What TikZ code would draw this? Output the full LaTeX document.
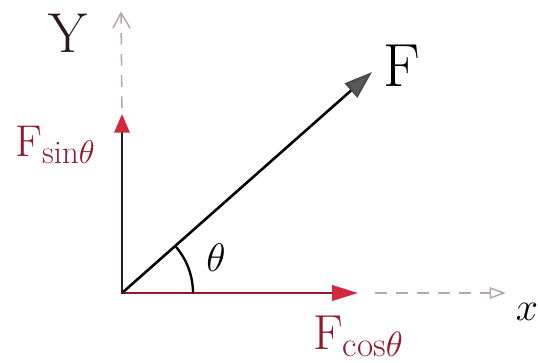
\documentclass[tikz,border=0pt]{standalone}
\usepackage{fix-cm}
\usetikzlibrary{arrows.meta}
\definecolor{inkred}{HTML}{8E1B2E}
\definecolor{inkdark}{HTML}{2A1A1C}
\definecolor{arrred}{HTML}{D4283F}
\definecolor{dashgray}{HTML}{B8A8AC}
\DeclareMathSizes{34}{34}{24}{18}
\DeclareMathSizes{30}{30}{22}{16}
\DeclareMathSizes{28}{28}{20}{14}
\begin{document}
\begin{tikzpicture}[x=0.03cm,y=-0.03cm,
  axisline/.style={line width=2.3pt,line cap=round},
  dashaxis/.style={line width=1.3pt,dash pattern=on 10pt off 8pt,dashgray},
  lbl/.style={inner sep=0pt,anchor=center}]
\useasboundingbox (0,0) rectangle (538,362);
\fill[white] (0,0) rectangle (538,362);
% points
\coordinate (O) at (122,293);
\coordinate (Ytip) at (122,114);
\coordinate (Ydash0) at (122,108);
\coordinate (Ytop) at (121,13);
\coordinate (Xtip) at (358,293);
\coordinate (Xdash0) at (375,293);
\coordinate (Xend) at (506,293);
\coordinate (Ftip) at (372,72);
% dashed axes
\draw[dashaxis] (Ydash0) -- (Ytop);
\draw[line width=1.3pt,dashgray,line cap=round] (113,28) -- (Ytop) -- (130,28);
\draw[dashaxis,-{Triangle[length=14pt,width=10pt,fill=white,line width=1.3pt]}] (Xdash0) -- (Xend);
% components
\draw[axisline,inkdark,-{Triangle[length=16pt,width=13pt,fill=arrred,color=arrred]}] (O) -- (Ytip);
\draw[axisline,inkred,-{Triangle[length=22pt,width=13pt,fill=arrred,color=arrred]}] (O) -- (Xtip);
% force
\draw[line width=2.2pt,black,-{Triangle[length=24pt,width=16pt,fill=gray!70!black,color=gray!60!black]}] (O) -- (Ftip);
% angle arc
\draw[line width=2pt,black] (193,293) arc[start angle=0,end angle=-41.7,radius=71];
% labels
\node[lbl,inkdark] (ylab) at (68,33) {\fontsize{48}{48}\selectfont Y};
\node[lbl,black] (flab) at (402,66) {\fontsize{52}{52}\selectfont F};
\node[lbl,inkred] (fsin) at (55,145) {\fontsize{38}{38}\selectfont F\raisebox{-6pt}{\fontsize{28}{28}\selectfont sin$\theta$}};
\node[lbl,black] (theta) at (216,258) {\fontsize{34}{34}\selectfont $\theta$};
\node[lbl,inkred] (fcos) at (358,336) {\fontsize{42}{42}\selectfont F\raisebox{-6pt}{\fontsize{30}{30}\selectfont cos$\theta$}};
\node[lbl,black] (xlab) at (527,312) {\fontsize{34}{34}\selectfont $x$};
\end{tikzpicture}
\end{document}
